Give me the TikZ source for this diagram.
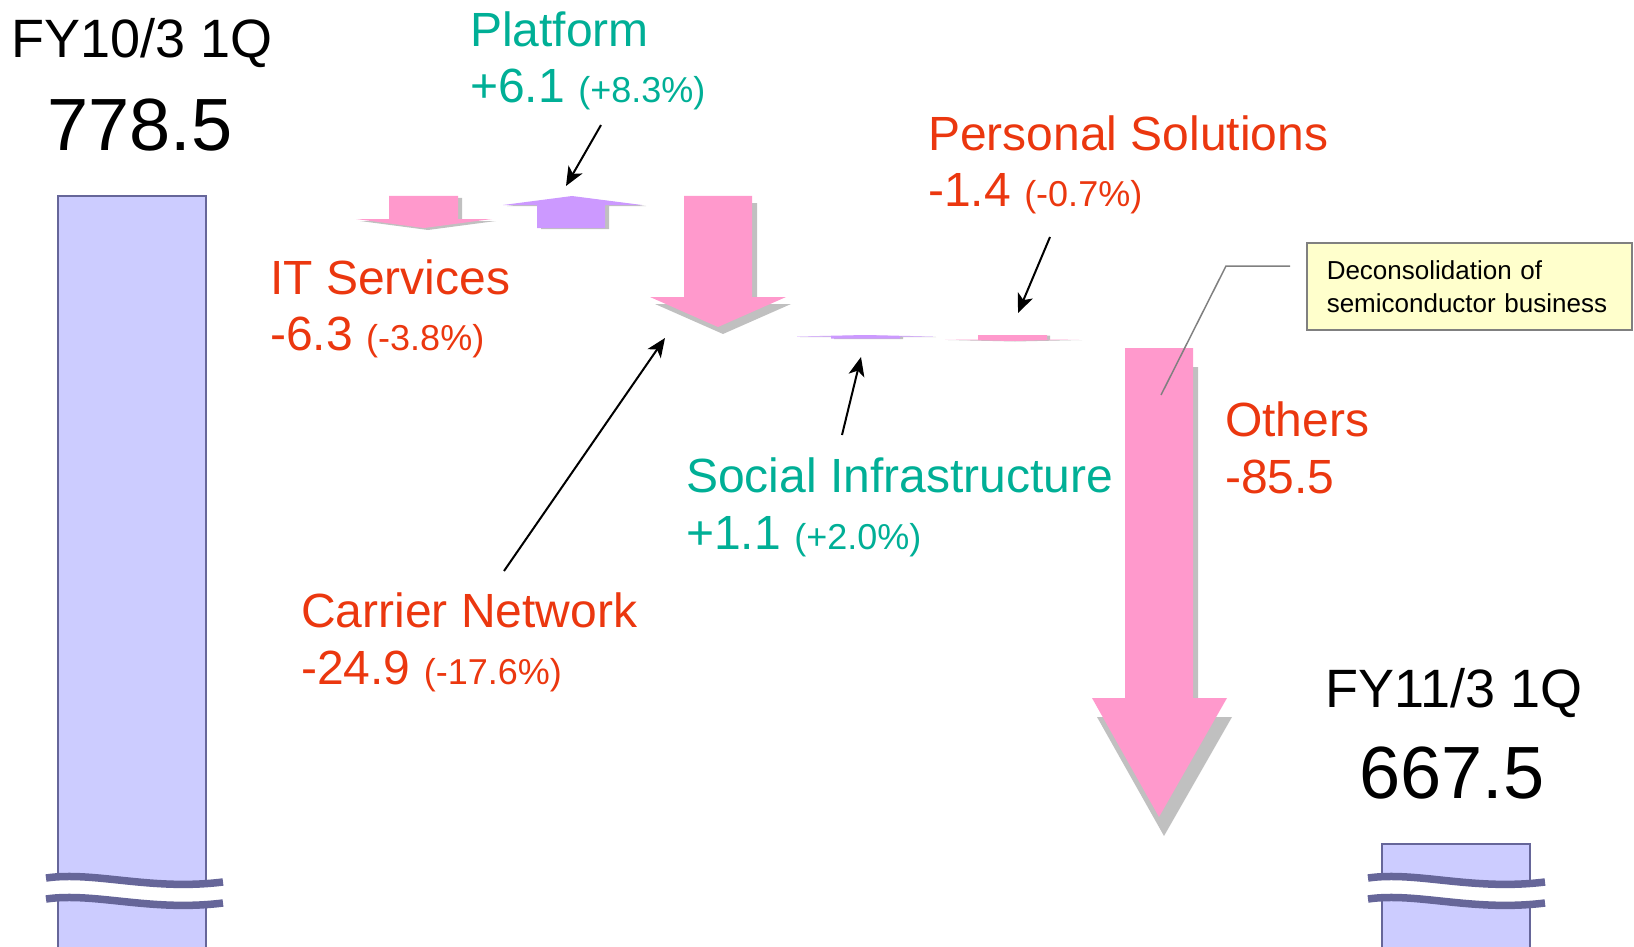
\documentclass[tikz,border=0pt]{standalone}
\usepackage{fontspec}
\setmainfont{Liberation Sans}
\usepackage{xcolor}
\usetikzlibrary{arrows.meta,positioning}

\definecolor{barfill}{RGB}{204,204,255}
\definecolor{barline}{RGB}{102,102,153}
\definecolor{minuspink}{RGB}{255,153,204}
\definecolor{pluspurple}{RGB}{204,153,255}
\definecolor{shadowgrey}{RGB}{192,192,192}
\definecolor{downred}{RGB}{235,55,15}
\definecolor{upteal}{RGB}{0,175,150}
\definecolor{notefill}{RGB}{255,255,204}

\tikzset{
    segname/.style={anchor=base west, inner sep=0pt, font=\fontsize{48}{52}\selectfont},
    totalname/.style={anchor=base, inner sep=0pt, font=\fontsize{54}{60}\selectfont},
    totalvalue/.style={anchor=base, inner sep=0pt, font=\fontsize{74}{80}\selectfont},
    pointer/.style={-{Stealth[length=19pt,width=16pt,inset=5pt]}, line width=2pt},
    breakline/.style={barline, line width=7.5pt},
    blockshadow/.style={fill=shadowgrey},
}
\newcommand{\pct}[1]{{\fontsize{36}{40}\selectfont #1}}

\begin{document}
\begin{tikzpicture}[x=1pt, y=-1pt]
    \useasboundingbox (0,0) rectangle (1634,947);

    % Totals
    \draw[barline, fill=barfill, line width=2pt] (58,947) -- (58,196) -- (206,196) -- (206,947);
    \fill[white] (46,878) .. controls (95,871) and (150,891) .. (223,882)
        -- (223,903) .. controls (150,912) and (95,892) .. (46,899) -- cycle;
    \draw[breakline] (46,878) .. controls (95,871) and (150,891) .. (223,882);
    \draw[breakline] (46,899) .. controls (95,892) and (150,912) .. (223,903);

    \draw[barline, fill=barfill, line width=2pt] (1382,947) -- (1382,844) -- (1530,844) -- (1530,947);
    \fill[white] (1368,878) .. controls (1417,871) and (1472,891) .. (1545,882)
        -- (1545,903) .. controls (1472,912) and (1417,892) .. (1368,899) -- cycle;
    \draw[breakline] (1368,878) .. controls (1417,871) and (1472,891) .. (1545,882);
    \draw[breakline] (1368,899) .. controls (1417,892) and (1472,912) .. (1545,903);

    \node[totalname] (fy10) at (142,58) {FY10/3 1Q};
    \node[totalvalue] (fy10-val) at (140,151) {778.5};
    \node[totalname] (fy11) at (1454,707) {FY11/3 1Q};
    \node[totalvalue] (fy11-val) at (1452,798) {667.5};

    % Segment blocks (shadow first)
    \fill[blockshadow, shift={(4,2)}] (389,196) -- (458,196) -- (458,219) -- (492,219) -- (424,228) -- (356,219) -- (389,219) -- cycle;
    \fill[minuspink] (389,196) -- (458,196) -- (458,219) -- (492,219) -- (424,228) -- (356,219) -- (389,219) -- cycle;

    \fill[blockshadow, shift={(4,1)}] (537,228) -- (537,205) -- (503,205) -- (572,196) -- (642,205) -- (605,205) -- (605,228) -- cycle;
    \fill[pluspurple] (537,228) -- (537,205) -- (503,205) -- (572,196) -- (642,205) -- (605,205) -- (605,228) -- cycle;

    \fill[blockshadow, shift={(5,7)}] (684,196) -- (752,196) -- (752,297) -- (786,297) -- (718,327) -- (650,297) -- (684,297) -- cycle;
    \fill[minuspink] (684,196) -- (752,196) -- (752,297) -- (786,297) -- (718,327) -- (650,297) -- (684,297) -- cycle;

    \fill[blockshadow, shift={(3,0.5)}] (831,338.5) -- (831,336.5) -- (797,336.5) -- (865,335) -- (933,336.5) -- (900,336.5) -- (900,338.5) -- cycle;
    \fill[pluspurple] (831,338.5) -- (831,336.5) -- (797,336.5) -- (865,335) -- (933,336.5) -- (900,336.5) -- (900,338.5) -- cycle;

    \fill[blockshadow, shift={(3,0.5)}] (978,335) -- (1047,335) -- (1047,339.5) -- (1079,339.5) -- (1012,341) -- (945,339.5) -- (978,339.5) -- cycle;
    \fill[minuspink] (978,335) -- (1047,335) -- (1047,339.5) -- (1079,339.5) -- (1012,341) -- (945,339.5) -- (978,339.5) -- cycle;

    \fill[blockshadow, shift={(5,19)}] (1125,348) -- (1193,348) -- (1193,698) -- (1227,698) -- (1159,817) -- (1092,698) -- (1125,698) -- cycle;
    \fill[minuspink] (1125,348) -- (1193,348) -- (1193,698) -- (1227,698) -- (1159,817) -- (1092,698) -- (1125,698) -- cycle;

    % Segment labels
    \node[segname, upteal] (platform) at (470,47) {Platform};
    \node[segname, upteal] (platform-val) at (470,103) {+6.1 \pct{(+8.3\%)}};
    \node[segname, downred] (itserv) at (270,294) {IT Services};
    \node[segname, downred] (itserv-val) at (270,350) {-6.3 \pct{(-3.8\%)}};
    \node[segname, downred] (carrier) at (301,627) {Carrier Network};
    \node[segname, downred] (carrier-val) at (301,684) {-24.9 \pct{(-17.6\%)}};
    \node[segname, upteal] (social) at (686,492) {Social Infrastructure};
    \node[segname, upteal] (social-val) at (686,549) {+1.1 \pct{(+2.0\%)}};
    \node[segname, downred] (personal) at (928,151) {Personal Solutions};
    \node[segname, downred] (personal-val) at (928,207) {-1.4 \pct{(-0.7\%)}};
    \node[segname, downred] (others) at (1225,436) {Others};
    \node[segname, downred] (others-val) at (1225,493) {-85.5};

    % Pointers
    \coordinate (platform-from) at (601,125);
    \coordinate (platform-to) at (566,186);
    \coordinate (carrier-from) at (504,571);
    \coordinate (carrier-to) at (665,338);
    \coordinate (social-from) at (842,435);
    \coordinate (social-to) at (861,357);
    \coordinate (personal-from) at (1050,237);
    \coordinate (personal-to) at (1018,313);
    \draw[pointer] (platform-from) -- (platform-to);
    \draw[pointer] (carrier-from) -- (carrier-to);
    \draw[pointer] (social-from) -- (social-to);
    \draw[pointer] (personal-from) -- (personal-to);

    % Note
    \node[draw=gray, line width=1.5pt, fill=notefill, anchor=north west, minimum width=325pt, minimum height=87pt,
          inner xsep=20pt, text width=285pt, align=left, font=\fontsize{26}{33}\selectfont] (note) at (1306,242)
          {Deconsolidation of\\semiconductor business};
    \coordinate (lead-a) at (1290,266);
    \coordinate (lead-b) at (1226,266);
    \coordinate (lead-c) at (1161,395);
    \draw[gray, line width=1.5pt] (lead-a) -- (lead-b) -- (lead-c);
\end{tikzpicture}
\end{document}
